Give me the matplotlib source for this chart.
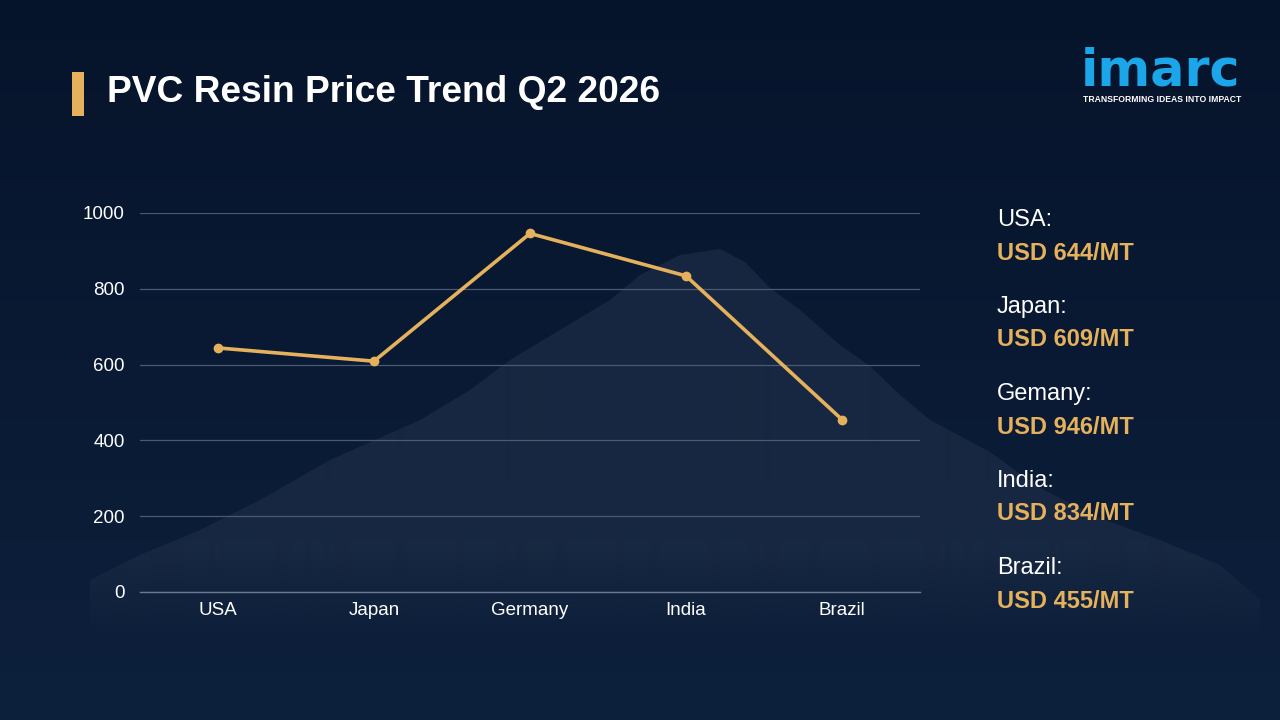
import numpy as np
import matplotlib.pyplot as plt
from matplotlib.patches import Rectangle, Polygon
from matplotlib.colors import LinearSegmentedColormap, to_rgb

plt.rcParams['font.family'] = ['Liberation Sans', 'DejaVu Sans']

countries = ['USA', 'Japan', 'Germany', 'India', 'Brazil']
panel_names = ['USA', 'Japan', 'Gemany', 'India', 'Brazil']
prices = [644, 609, 946, 834, 455]
yticks = [0, 200, 400, 600, 800, 1000]

GOLD = '#e5b15c'
GRID = '#4b5a73'

fig = plt.figure(figsize=(12.8, 7.2), dpi=100)

# background layer (pixel coordinates)
bg = fig.add_axes([0, 0, 1, 1])
bg.set_xlim(0, 1280)
bg.set_ylim(720, 0)
bg.axis('off')
grad = np.linspace(0, 1, 256).reshape(-1, 1)
cmap = LinearSegmentedColormap.from_list('bg', ['#06142b', '#0a1a34', '#0d203c'])
bg.imshow(grad, extent=[0, 1280, 720, 0], aspect='auto', cmap=cmap, zorder=0)

# soft powder mound behind the chart, fading out towards the bottom
mound = [(90, 580), (140, 555), (200, 530), (260, 500), (330, 460), (420, 420),
         (470, 390), (510, 360), (560, 330), (610, 300), (640, 275), (680, 255),
         (720, 249), (745, 262), (770, 288), (800, 310), (840, 345), (870, 366),
         (900, 395), (930, 420), (990, 452), (1040, 488), (1100, 518),
         (1160, 540), (1220, 565), (1260, 600), (1260, 660), (90, 660)]
poly = Polygon(mound, closed=True, facecolor='none', edgecolor='none')
bg.add_patch(poly)
h = 720
rgba = np.zeros((h, 1, 4))
rgba[:, 0, :3] = to_rgb('#1d2d47')
rows = np.arange(h)
alpha = np.clip((640 - rows) / 90.0, 0, 1) * 0.7
rgba[:, 0, 3] = alpha
im = bg.imshow(rgba, extent=[0, 1280, 720, 0], aspect='auto', zorder=1,
               interpolation='bilinear')
im.set_clip_path(poly)

# title
bg.add_patch(Rectangle((72, 72), 12, 44, facecolor=GOLD, edgecolor='none', zorder=3))
bg.text(107, 93, 'PVC Resin Price Trend Q2 2026', color='white', fontsize=26.7,
        fontweight='bold', va='center', ha='left', zorder=3)

# logo
bg.text(1081, 85, 'imarc', color='#1ba6ea', fontsize=36.5, fontweight='bold',
        family=['DejaVu Sans'], va='baseline', ha='left', zorder=3)
bg.text(1083, 99, 'TRANSFORMING IDEAS INTO IMPACT', color='white', fontsize=6.2,
        fontweight='bold', va='center', ha='left', zorder=3)

# right side price panel
for i, (name, p) in enumerate(zip(panel_names, prices)):
    y0 = 220 + i * 87
    bg.text(997, y0, name + ':', color='white', fontsize=17, va='center', ha='left')
    bg.text(997, y0 + 33, 'USD %d/MT' % p, color=GOLD, fontsize=17,
            fontweight='bold', va='center', ha='left')

# chart
ax = fig.add_axes([140 / 1280, 128 / 720, 780 / 1280, 379 / 720])
ax.patch.set_alpha(0)
x = np.arange(len(countries))
ax.plot(x, prices, color=GOLD, linewidth=2.6, marker='o', markersize=6,
        solid_capstyle='round', zorder=3)
ax.set_xlim(-0.5, len(countries) - 0.5)
ax.set_ylim(0, 1000)
ax.set_yticks(yticks)
ax.set_xticks(x)
ax.set_xticklabels(countries)
ax.grid(axis='y', color=GRID, linewidth=0.9)
ax.set_axisbelow(True)
for side in ['top', 'right', 'left']:
    ax.spines[side].set_visible(False)
ax.spines['bottom'].set_color('#6b7a92')
ax.spines['bottom'].set_linewidth(1.0)
ax.tick_params(axis='both', length=0, colors='white', labelsize=13.5)
ax.tick_params(axis='y', pad=11)
ax.tick_params(axis='x', pad=7)

fig.savefig('out.png', dpi=100)
